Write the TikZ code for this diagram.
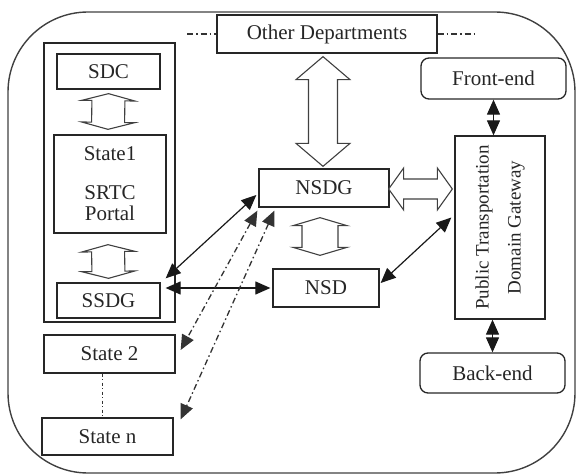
\documentclass[tikz,border=0pt]{standalone}
\usepackage{fontspec}
\setmainfont{Liberation Serif}
\usetikzlibrary{arrows.meta,calc}
\tikzset{
  box/.style={draw=black!85, line width=1.3pt, text=black!85, inner sep=0pt,
    font=\fontsize{21}{24}\selectfont, align=center},
  rbox/.style={box, rounded corners=8pt},
  hollow/.style={draw=black!75, line width=1.1pt, fill=white, line join=miter},
  bigtips/.style={arrows={Triangle[length=15pt,width=13pt]-Triangle[length=15pt,width=13pt]}},
  bothtips/.style={line width=1.2pt, draw=black!90, bigtips},
  dashdot/.style={line width=1.3pt, draw=black!80, dash pattern=on 6pt off 3pt on 1.5pt off 3pt},
}
\newcommand\harrow[6]{%
  \coordinate (#6a) at (#1);
  \coordinate (#6b) at (#2);
  \coordinate (#6c) at ($(#6a)!#3!(#6b)$);
  \coordinate (#6d) at ($(#6b)!#3!(#6a)$);
  \draw[hollow] (#6a) -- ($(#6c)!#4!90:(#6b)$) -- ($(#6c)!#5!90:(#6b)$)
    -- ($(#6d)!#5!-90:(#6a)$) -- ($(#6d)!#4!-90:(#6a)$) -- (#6b)
    -- ($(#6d)!#4!90:(#6a)$) -- ($(#6d)!#5!90:(#6a)$)
    -- ($(#6c)!#5!-90:(#6b)$) -- ($(#6c)!#4!-90:(#6b)$) -- cycle;
}
\begin{document}
\begin{tikzpicture}[x=1pt,y=-1pt]
\useasboundingbox (0,0) rectangle (576,476);
% outer frame
\draw[line width=1.4pt, draw=black!75, rounded corners=80pt] (8,12) rectangle (575,473);

% nodes
\node[box, minimum width=220pt, minimum height=38pt] (odep) at (327,34) {Other Departments};
\node[box, minimum width=131pt, minimum height=279pt] (grp) at (109.5,182.5) {};
\node[box, minimum width=103pt, minimum height=35pt] (sdc) at (108.5,71.5) {SDC};
\node[box, minimum width=112pt, minimum height=98pt, font=\fontsize{21}{21}\selectfont] (st1) at (110,184) {State1\\[18pt]SRTC\\Portal};
\node[box, minimum width=103pt, minimum height=35pt] (ssdg) at (108.5,300.5) {SSDG};
\node[box, minimum width=131pt, minimum height=38pt] (state2) at (109.5,354) {State 2};
\node[box, minimum width=131pt, minimum height=37pt] (staten) at (107.5,436.5) {State n};
\node[box, minimum width=130pt, minimum height=38pt] (nsdg) at (324,188) {NSDG};
\node[box, minimum width=106pt, minimum height=38pt] (nsd) at (326,288) {NSD};
\node[box, minimum width=90pt, minimum height=183pt] (ptdg) at (500,227.5) {};
\node[text=black!85, font=\fontsize{19}{32}\selectfont, align=center, rotate=90, inner sep=0pt] (ptdgtext) at (ptdg.center) {Public Transportation\\Domain Gateway};
\node[rbox, minimum width=145pt, minimum height=41pt] (fe) at (493.5,78.5) {Front-end};
\node[rbox, minimum width=145pt, minimum height=40pt] (be) at (492.5,373) {Back-end};

% dash-dot lines beside Other Departments
\coordinate (ddl) at (187,34);
\coordinate (ddr) at (478,34);
\draw[dashdot] (ddl) -- (odep.west);
\draw[dashdot] (odep.east) -- (ddr);

% hollow double arrows
\harrow{[yshift=-4pt]sdc.south}{$(st1.north)+(-2,-5)$}{7pt}{26.5pt}{16.5pt}{h1}
\harrow{$(st1.south)+(-2,11)$}{[yshift=4pt]ssdg.north}{7pt}{26.5pt}{16.5pt}{h2}
\harrow{$(odep.south)+(-4,3)$}{$(nsdg.north)+(-1,-2)$}{23pt}{27pt}{14.5pt}{h3}
\harrow{$(nsdg.south)+(-4,10)$}{$(nsd.north)+(-6,-13)$}{8pt}{27pt}{18pt}{h4}
\harrow{$(nsdg.east)+(-1,1)$}{$(ptdg.west|-nsdg.east)+(-2,1)$}{15pt}{21pt}{10pt}{h5}

% solid arrows
\draw[bothtips] ($(nsdg.west)+(-2,7)$) -- ($(ssdg.north east)+(5,-4)$);
\draw[bothtips] ($(ssdg.east|-nsd.west)+(5,0)$) -- ([xshift=-2pt]nsd.west);
\draw[bothtips] ($(nsd.east)+(1,-5)$) -- ($(ptdg.west)+(-3,-10)$);
\draw[bothtips] (fe.south) -- (fe.south|-ptdg.north);
\draw[bothtips] (ptdg.south-|be.north) -- (be.north);

% dash-dot arrows
\draw[dashdot, bigtips] ($(nsdg.south west)+(-1,3)$) -- ($(state2.east)+(5,-4)$);
\draw[dashdot, bigtips] ($(nsdg.south west)+(16,3)$) -- ($(staten.north east)+(7,2)$);
\coordinate (s2b) at ($(state2.south)+(-7,0)$);
\draw[dashdot, dash pattern=on 3pt off 2.5pt on 1pt off 2.5pt] (s2b) -- (s2b|-staten.north);
\end{tikzpicture}
\end{document}
